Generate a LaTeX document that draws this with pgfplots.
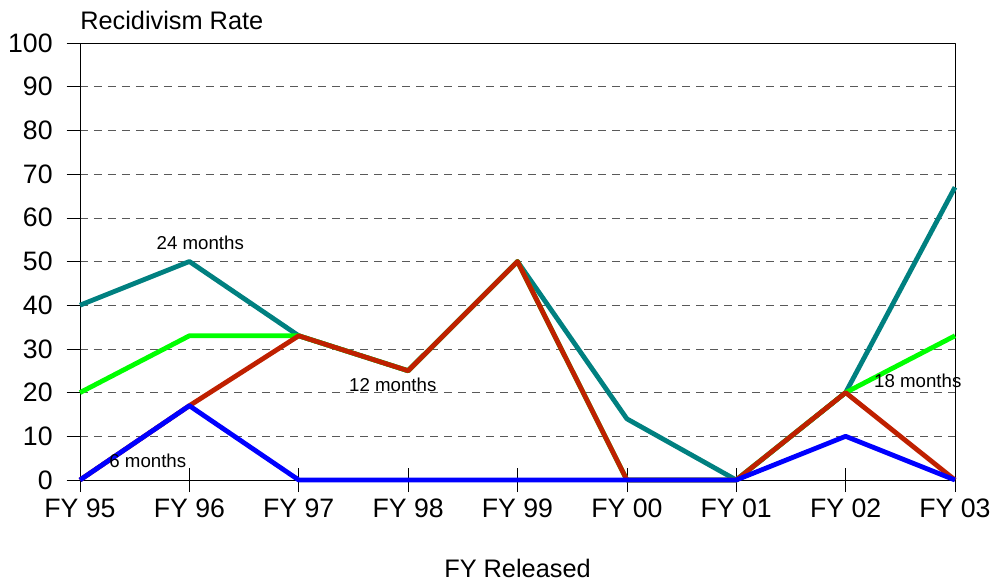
\documentclass[border=0pt]{standalone}
\usepackage{pgfplots}
\pgfplotsset{compat=1.18}
\usepackage{fontspec}
\setmainfont{Liberation Sans}
\definecolor{teal24}{HTML}{008080}
\definecolor{green18}{HTML}{00FF00}
\definecolor{red12}{HTML}{BF2000}
\definecolor{blue6}{HTML}{0000FF}
\begin{document}
\begin{tikzpicture}
\begin{axis}[name=ax,
    scale only axis, width=656.25pt, height=327.75pt,
    xmin=0, xmax=8, ymin=0, ymax=100,
    xtick=\empty,
    extra x ticks={0,...,8},
    extra x tick labels={FY 95,FY 96,FY 97,FY 98,FY 99,FY 00,FY 01,FY 02,FY 03},
    extra x tick style={major tick length=18pt, tick align=center,
      tick label style={yshift=-2pt}},
    ytick={0,10,...,100},
    y tick label style={xshift=-7pt},
    tick pos=left,
    /pgf/number format/assume math mode=true,
    tick label style={font=\fontsize{20}{24}\selectfont},
    tick style={black, thin},
    major tick length=10pt,
    ytick align=outside,
    ymajorgrids,
    grid style={dashed, black!65, dash pattern=on 6pt off 4.5pt},
    axis line style={black, thin},
    xlabel={FY Released},
    xlabel style={font=\fontsize{19}{23}\selectfont, yshift=-24pt},
    clip=false,
    line join=round,
  ]
% 24 months
\addplot[teal24, line width=3.6pt] coordinates {
  (0,40) (1,50) (2,33) (3,25) (4,50) (5,14) (6,0) (7,20) (8,67)
};
% 18 months
\addplot[green18, line width=3.6pt] coordinates {
  (0,20) (1,33) (2,33) (3,25) (4,50) (5,0) (6,0) (7,20) (8,33)
};
% 12 months
\addplot[red12, line width=3.6pt] coordinates {
  (0,0) (1,17) (2,33) (3,25) (4,50) (5,0) (6,0) (7,20) (8,0)
};
% 6 months
\addplot[blue6, line width=3.6pt] coordinates {
  (0,0) (1,17) (2,0) (3,0) (4,0) (5,0) (6,0) (7,10) (8,0)
};
\node[font=\fontsize{14}{16}\selectfont] at (axis cs:1.1,54.2) {24 months};
\node[font=\fontsize{14}{16}\selectfont] at (axis cs:2.86,21.7) {12 months};
\node[font=\fontsize{14}{16}\selectfont] at (axis cs:7.66,22.6) {18 months};
\node[font=\fontsize{14}{16}\selectfont] at (axis cs:0.62,4.3) {6 months};
\node[font=\fontsize{19}{23}\selectfont, anchor=west, inner sep=0pt] at ([yshift=17pt]rel axis cs:0,1) {Recidivism Rate};
\end{axis}
\pgfresetboundingbox
\path ([xshift=-60pt,yshift=-78.75pt]ax.south west) rectangle ([xshift=28.5pt,yshift=32.25pt]ax.north east);
\end{tikzpicture}
\end{document}
